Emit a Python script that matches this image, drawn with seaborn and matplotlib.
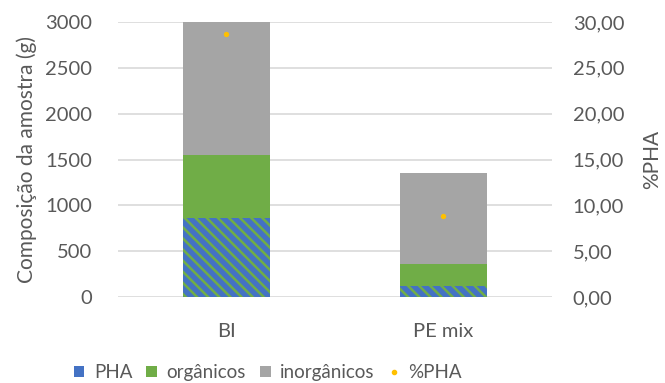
import matplotlib
matplotlib.use("Agg")
import matplotlib.pyplot as plt
from matplotlib.patches import Patch
from matplotlib.lines import Line2D
from matplotlib.ticker import FuncFormatter
import seaborn as sns
import pandas as pd

# Sample composition (g) and PHA percentage
amostras = ["BI", "PE mix"]
pha = [860, 120]
organicos = [690, 240]
inorganicos = [1450, 990]
pct_pha = [28.67, 8.89]

sns.set_theme(style="white")
plt.rcParams["font.family"] = ["Lato", "DejaVu Sans"]
plt.rcParams["hatch.linewidth"] = 1.8

TXT = "#595959"
BLUE = "#4472C4"
GREEN = "#70AD47"
GREY = "#A5A5A5"
ORANGE = "#FFC000"

df = pd.DataFrame({
    "amostra": amostras,
    "pha": pha,
    "org": organicos,
    "inorg": inorganicos,
    "pct": pct_pha,
})
df["cum_org"] = df["pha"] + df["org"]
df["cum_total"] = df["cum_org"] + df["inorg"]

fig = plt.figure(figsize=(6.65, 3.83), dpi=100)
ax = fig.add_axes([0.1774, 0.2245, 0.6526, 0.7181])

# Stacked bars drawn as cumulative layers
sns.barplot(data=df, x="amostra", y="cum_total", color=GREY, width=0.4,
            saturation=1, linewidth=0, ax=ax, zorder=2)
sns.barplot(data=df, x="amostra", y="cum_org", color=GREEN, width=0.4,
            saturation=1, linewidth=0, ax=ax, zorder=3)
n_before = len(ax.patches)
sns.barplot(data=df, x="amostra", y="pha", color=BLUE, width=0.4,
            saturation=1, linewidth=0, ax=ax, zorder=4)
for p in ax.patches[n_before:]:
    p.set_hatch("\\" * 3)
    p.set_edgecolor(GREEN)
    p.set_linewidth(0)
    p.set_facecolor(BLUE)

ax.set_xlim(-0.5, 1.5)
ax.set_ylim(0, 3000)
ax.set_yticks(range(0, 3001, 500))
ax.yaxis.grid(True, color="#D9D9D9", linewidth=1.2, zorder=0)
ax.set_axisbelow(True)
for s in ax.spines.values():
    s.set_visible(False)
ax.tick_params(axis="y", length=0, labelsize=14.5, colors=TXT, pad=18.5)
ax.tick_params(axis="x", length=0, labelsize=14.5, colors=TXT, pad=19)
ax.set_xlabel("")
ax.set_ylabel("Composição da amostra (g)", fontsize=15, color=TXT)
ax.yaxis.set_label_coords(-0.187, 0.5)

# Secondary axis: PHA percentage
ax2 = ax.twinx()
sns.scatterplot(data=df, x="amostra", y="pct", color=ORANGE, s=15,
                linewidth=0, ax=ax2, zorder=5)
ax2.set_ylim(0, 30)
ax2.set_yticks(range(0, 31, 5))
ax2.yaxis.set_major_formatter(FuncFormatter(lambda v, _: f"{v:.2f}".replace(".", ",")))
for s in ax2.spines.values():
    s.set_visible(False)
ax2.tick_params(axis="y", length=0, labelsize=14.5, colors=TXT, pad=15)
ax2.set_ylabel("%PHA", fontsize=15, color=TXT, rotation=90)
ax2.yaxis.set_label_coords(1.207, 0.5)
ax2.set_xlabel("")

handles = [
    Patch(facecolor=BLUE, edgecolor="none"),
    Patch(facecolor=GREEN, edgecolor="none"),
    Patch(facecolor=GREY, edgecolor="none"),
    Line2D([], [], marker="o", linestyle="none", color=ORANGE, markersize=3),
]
labels = ["PHA", "orgânicos", "inorgânicos", "%PHA"]
leg = fig.legend(handles, labels, loc="center", bbox_to_anchor=(0.403, 0.027),
                 ncol=4, frameon=False, fontsize=13.5, handlelength=0.57,
                 handleheight=0.57, handletextpad=0.5, columnspacing=0.75)
for t in leg.get_texts():
    t.set_color(TXT)

fig.savefig("out.png", dpi=100)
